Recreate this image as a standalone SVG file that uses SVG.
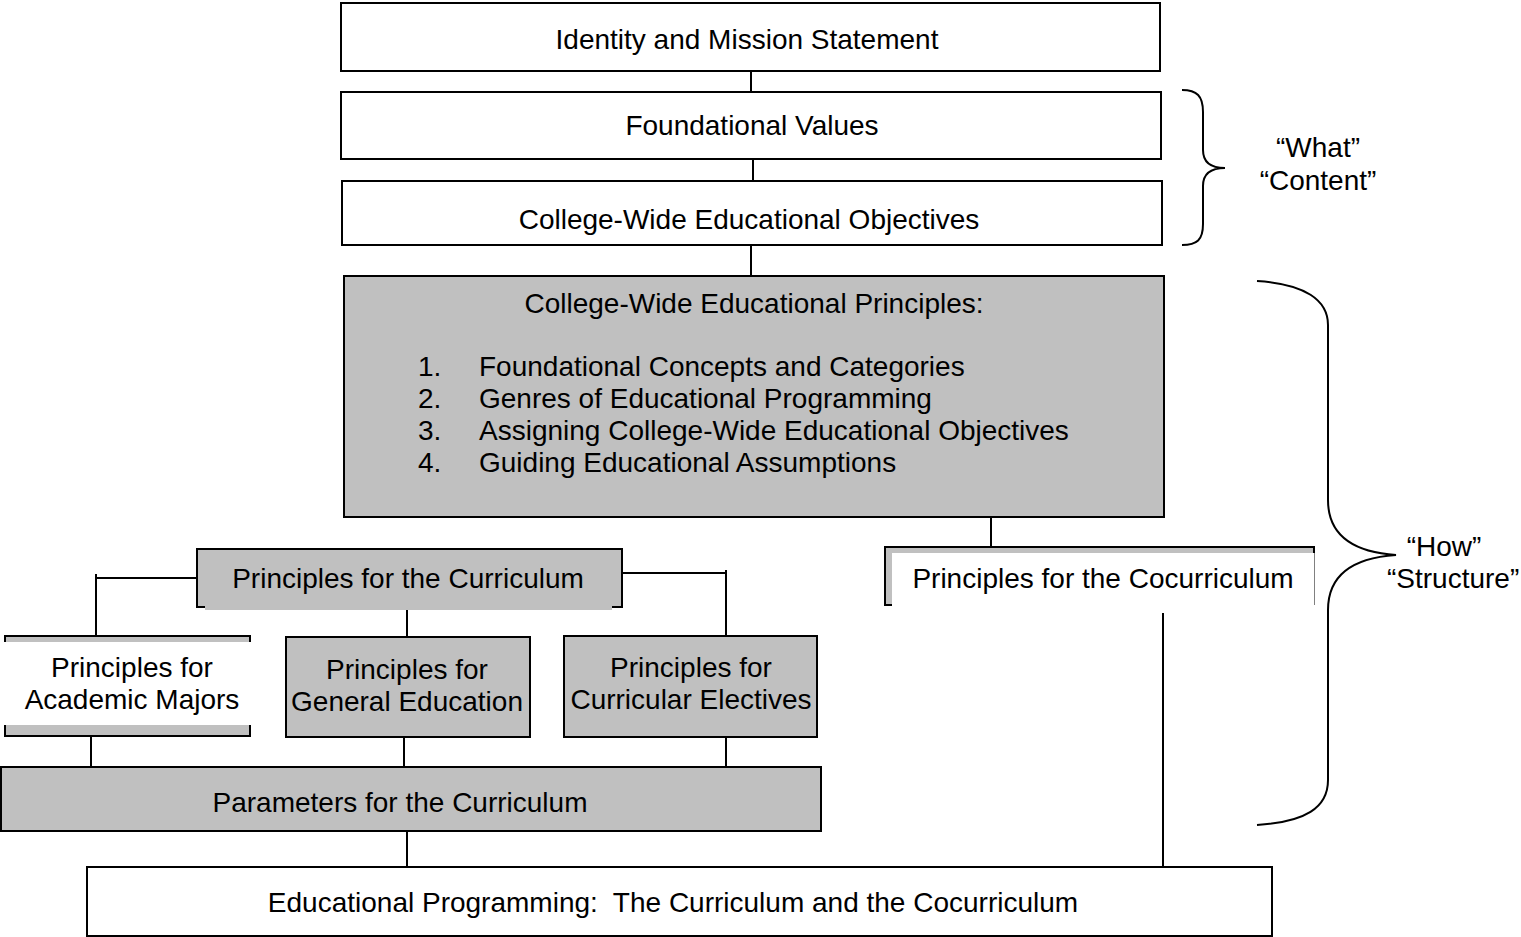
<svg xmlns="http://www.w3.org/2000/svg" width="1521" height="937" viewBox="0 0 1521 937">
<style>
text{font-family:"Liberation Sans",Arial,sans-serif;font-size:28px;fill:#000}
.c{text-anchor:middle}
.w{fill:#fff;stroke:#000;stroke-width:2}
.g{fill:#c0c0c0;stroke:#000;stroke-width:2}
.ln{stroke:#000;stroke-width:2;fill:none}
.br{stroke:#000;stroke-width:2;fill:none}
</style>
<rect width="1521" height="937" fill="#fff"/>
<g id="connectors">
<line class="ln" x1="751" y1="71" x2="751" y2="92"/>
<line class="ln" x1="753" y1="159" x2="753" y2="181"/>
<line class="ln" x1="751" y1="245" x2="751" y2="276"/>
<line class="ln" x1="991" y1="517" x2="991" y2="546"/>
<polyline class="ln" points="196,578 96,578 96,635"/>
<line class="ln" x1="96" y1="574" x2="96" y2="580"/>
<polyline class="ln" points="622,573 726,573 726,636"/>
<line class="ln" x1="726" y1="570" x2="726" y2="576"/>
<line class="ln" x1="407" y1="607" x2="407" y2="637"/>
<line class="ln" x1="91" y1="737" x2="91" y2="767"/>
<line class="ln" x1="404" y1="737" x2="404" y2="767"/>
<line class="ln" x1="726" y1="737" x2="726" y2="767"/>
<line class="ln" x1="407" y1="831" x2="407" y2="867"/>
<line class="ln" x1="1163" y1="605" x2="1163" y2="867"/>
</g>
<g id="identity">
<rect class="w" x="341" y="3" width="819" height="68"/>
<text class="c" x="747" y="49">Identity and Mission Statement</text>
</g>
<g id="foundational-values">
<rect class="w" x="341" y="92" width="820" height="67"/>
<text class="c" x="752" y="135">Foundational Values</text>
</g>
<g id="objectives">
<rect class="w" x="342" y="181" width="820" height="64"/>
<text class="c" x="749" y="229">College-Wide Educational Objectives</text>
</g>
<g id="principles">
<rect class="g" x="344" y="276" width="820" height="241"/>
<text class="c" x="754" y="313">College-Wide Educational Principles:</text>
<text x="418" y="376">1.</text><text x="479" y="376">Foundational Concepts and Categories</text>
<text x="418" y="408">2.</text><text x="479" y="408">Genres of Educational Programming</text>
<text x="418" y="440">3.</text><text x="479" y="440">Assigning College-Wide Educational Objectives</text>
<text x="418" y="472">4.</text><text x="479" y="472">Guiding Educational Assumptions</text>
</g>
<g id="principles-curriculum">
<rect class="g" x="197" y="549" width="425" height="58"/>
<rect x="205" y="600" width="407" height="10" fill="#c0c0c0"/>
<text class="c" x="408" y="588">Principles for the Curriculum</text>
</g>
<g id="principles-cocurriculum">
<rect class="g" x="885" y="547" width="429" height="58"/>
<rect x="892" y="553" width="424" height="60" fill="#fff"/>
<line x1="1314.5" y1="553" x2="1314.5" y2="605" stroke="#808080" stroke-width="1"/>
<text class="c" x="1103" y="588">Principles for the Cocurriculum</text>
</g>
<g id="academic-majors">
<rect class="g" x="5" y="636" width="245" height="100"/>
<rect x="3" y="642" width="250" height="83" fill="#fff"/>
<text class="c" x="132" y="677">Principles for</text>
<text class="c" x="132" y="709">Academic Majors</text>
</g>
<g id="general-education">
<rect class="g" x="286" y="637" width="244" height="100"/>
<text class="c" x="407" y="679">Principles for</text>
<text class="c" x="407" y="711">General Education</text>
</g>
<g id="curricular-electives">
<rect class="g" x="564" y="636" width="253" height="101"/>
<text class="c" x="691" y="677">Principles for</text>
<text class="c" x="691" y="709">Curricular Electives</text>
</g>
<g id="parameters">
<rect class="g" x="1" y="767" width="820" height="64"/>
<text class="c" x="400" y="812">Parameters for the Curriculum</text>
</g>
<g id="programming">
<rect class="w" x="87" y="867" width="1185" height="69"/>
<text class="c" x="673" y="912" xml:space="preserve">Educational Programming:  The Curriculum and the Cocurriculum</text>
</g>
<g id="brace-what">
<path class="br" d="M1182,90 C1197,90 1203,96 1203,112 L1203,150 C1203,162 1210,168 1225,168 C1210,168 1203,174 1203,186 L1203,224 C1203,240 1197,245 1182,245"/>
<text class="c" x="1318" y="157">“What”</text>
<text class="c" x="1318" y="190">“Content”</text>
</g>
<g id="brace-how">
<path class="br" d="M1257,281 C1305,284 1328,300 1328,325 L1328,500 C1328,535 1352,552 1396,555 C1352,558 1328,575 1328,610 L1328,780 C1328,808 1305,822 1257,825"/>
<text class="c" x="1444" y="556">“How”</text>
<text x="1387" y="588">“Structure”</text>
</g>
</svg>
